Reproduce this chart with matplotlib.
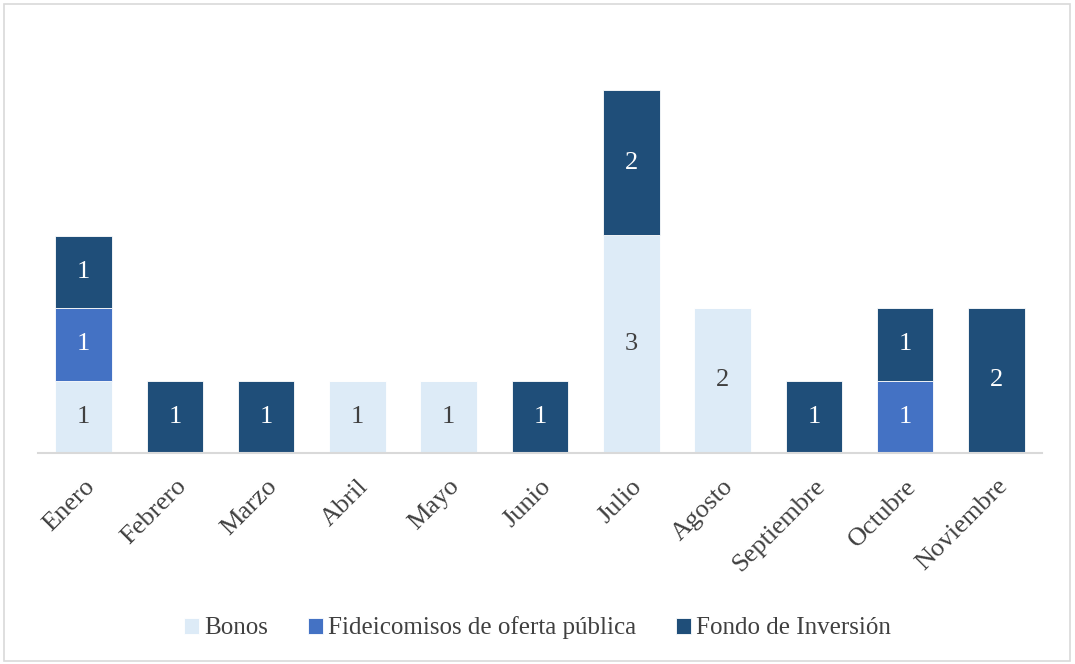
import numpy as np
import matplotlib.pyplot as plt
from matplotlib.patches import Rectangle

plt.rcParams['font.family'] = ['Liberation Serif', 'DejaVu Serif']

months = ["Enero", "Febrero", "Marzo", "Abril", "Mayo", "Junio", "Julio",
          "Agosto", "Septiembre", "Octubre", "Noviembre"]
bonos = [1, 0, 0, 1, 1, 0, 3, 2, 0, 0, 0]
fideicomisos = [1, 0, 0, 0, 0, 0, 0, 0, 0, 1, 0]
fondos = [1, 1, 1, 0, 0, 1, 2, 0, 1, 1, 2]

series = [("Bonos", bonos, "#DDEBF7", "#404040"),
          ("Fideicomisos de oferta pública", fideicomisos, "#4472C4", "white"),
          ("Fondo de Inversión", fondos, "#1F4E79", "white")]

fig = plt.figure(figsize=(10.75, 6.64), dpi=100)
ax = fig.add_axes([38 / 1075, (664 - 453) / 664, (1042 - 38) / 1075, 435 / 664])

x = np.arange(len(months))
bottom = np.zeros(len(months))
for name, vals, color, tcolor in series:
    vals = np.array(vals, dtype=float)
    ax.bar(x, vals, 0.62, bottom=bottom, color=color, label=name,
           edgecolor="white", linewidth=0.6)
    for xi, v, b in zip(x, vals, bottom):
        if v > 0:
            ax.text(xi, b + v / 2, "%d" % v, ha="center", va="center",
                    fontsize=19, color=tcolor)
    bottom += vals

ax.set_xlim(-0.5, 10.5)
ax.set_ylim(0, 6)
for s in ["top", "right", "left"]:
    ax.spines[s].set_visible(False)
ax.spines["bottom"].set_color("#D9D9D9")
ax.spines["bottom"].set_linewidth(1.5)
ax.set_yticks([])
ax.set_xticks(x)
ax.set_xticklabels(months, rotation=45, ha="right", rotation_mode="anchor",
                   fontsize=19, color="#404040")
ax.tick_params(axis="x", length=0, pad=16)

fig.legend(loc="center", bbox_to_anchor=(0.5, (664 - 628) / 664), ncol=3,
           frameon=False, fontsize=18, handlelength=0.6, handleheight=0.6,
           handletextpad=0.2, columnspacing=1.6, labelcolor="#404040")

fig.patches.append(Rectangle((4 / 1075, 3 / 664), 1066 / 1075, 657 / 664,
                             transform=fig.transFigure, fill=False,
                             edgecolor="#D9D9D9", linewidth=1.2))

fig.savefig("out.png", dpi=100)
